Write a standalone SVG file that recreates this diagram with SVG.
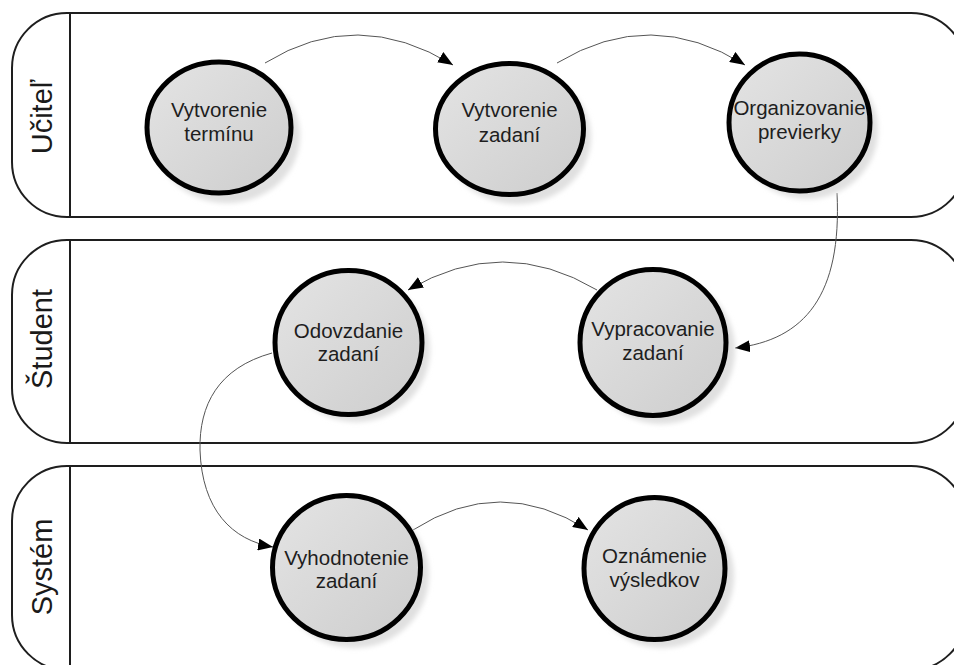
<svg xmlns="http://www.w3.org/2000/svg" width="954" height="665" viewBox="0 0 954 665">
  <defs>
    <linearGradient id="fillGrad" x1="0" y1="0" x2="1" y2="1">
      <stop offset="0" stop-color="#e4e4e4"/>
      <stop offset="1" stop-color="#cdcdcd"/>
    </linearGradient>
    <filter id="shadowBlur" x="-20%" y="-20%" width="140%" height="140%">
      <feGaussianBlur stdDeviation="2.5"/>
    </filter>
    <marker id="arrow" markerUnits="userSpaceOnUse" markerWidth="17" markerHeight="12" refX="15" refY="6" orient="auto">
      <path d="M0,0 L15,6 L0,12 Z" fill="#000"/>
    </marker>
  </defs>
  <style>
    .lane { fill: #fff; stroke: #1e1e1e; stroke-width: 2; }
    .divider { stroke: #1e1e1e; stroke-width: 2; }
    .laneLabel { font-family: "Liberation Sans", Arial, sans-serif; font-size: 29px; fill: #1a1a1a; text-anchor: middle; }
    .shadow { fill: #e0e0e0; filter: url(#shadowBlur); }
    .node { fill: url(#fillGrad); stroke: #000; stroke-width: 5; }
    .label { font-family: "Liberation Sans", Arial, sans-serif; font-size: 20.5px; fill: #1e1e1e; text-anchor: middle; }
    .conn { fill: none; stroke: #555; stroke-width: 1; marker-end: url(#arrow); }
  </style>
  <rect width="954" height="665" fill="#fff"/>

  <g id="lane-ucitel">
    <rect class="lane" x="12" y="13" width="954" height="204" rx="55" ry="55"/>
    <line class="divider" x1="70" y1="13" x2="70" y2="217"/>
    <text class="laneLabel" transform="translate(52,117) rotate(-90)">Učiteľ</text>
  </g>
  <g id="lane-student">
    <rect class="lane" x="12" y="240" width="954" height="203" rx="55" ry="55"/>
    <line class="divider" x1="70" y1="240" x2="70" y2="443"/>
    <text class="laneLabel" transform="translate(52,339) rotate(-90)">Študent</text>
  </g>
  <g id="lane-system">
    <rect class="lane" x="12" y="466" width="954" height="204" rx="55" ry="55"/>
    <line class="divider" x1="70" y1="466" x2="70" y2="670"/>
    <text class="laneLabel" transform="translate(52,567) rotate(-90)">Systém</text>
  </g>

  <g id="connectors">
    <path class="conn" d="M265,63 Q357,6 453,65"/>
    <path class="conn" d="M557,63 Q651,6 745,65"/>
    <path class="conn" d="M837,193 C842,295 805,340 735,348"/>
    <path class="conn" d="M597,290 Q503,234 408,290"/>
    <path class="conn" d="M272,353 C218,368 199,405 200,450 C202,510 232,540 273,547"/>
    <path class="conn" d="M413,530 Q500,474 588,530"/>
  </g>

  <g id="n1">
    <ellipse class="shadow" cx="227" cy="136" rx="73" ry="67"/>
    <ellipse class="node" cx="219" cy="127.5" rx="72" ry="65.5"/>
    <text class="label" x="219" y="117">Vytvorenie</text>
    <text class="label" x="219" y="141">termínu</text>
  </g>
  <g id="n2">
    <ellipse class="shadow" cx="517" cy="137" rx="74" ry="67"/>
    <ellipse class="node" cx="509.5" cy="129" rx="74" ry="65.5"/>
    <text class="label" x="509.5" y="117">Vytvorenie</text>
    <text class="label" x="509.5" y="142">zadaní</text>
  </g>
  <g id="n3">
    <ellipse class="shadow" cx="807" cy="130" rx="71" ry="69"/>
    <ellipse class="node" cx="799.5" cy="122.5" rx="70.5" ry="68.5"/>
    <text class="label" x="799.5" y="115">Organizovanie</text>
    <text class="label" x="799.5" y="139">previerky</text>
  </g>
  <g id="n4">
    <ellipse class="shadow" cx="356" cy="350" rx="74" ry="72"/>
    <ellipse class="node" cx="348.5" cy="342.5" rx="73.5" ry="72"/>
    <text class="label" x="348.5" y="338">Odovzdanie</text>
    <text class="label" x="348.5" y="361">zadaní</text>
  </g>
  <g id="n5">
    <ellipse class="shadow" cx="661" cy="350" rx="74" ry="74"/>
    <ellipse class="node" cx="653" cy="342.5" rx="73" ry="73"/>
    <text class="label" x="653" y="336">Vypracovanie</text>
    <text class="label" x="653" y="360">zadaní</text>
  </g>
  <g id="n6">
    <ellipse class="shadow" cx="354" cy="575" rx="75" ry="73"/>
    <ellipse class="node" cx="346.5" cy="567.5" rx="74" ry="72"/>
    <text class="label" x="346.5" y="565">Vyhodnotenie</text>
    <text class="label" x="346.5" y="588">zadaní</text>
  </g>
  <g id="n7">
    <ellipse class="shadow" cx="662" cy="576" rx="72" ry="72"/>
    <ellipse class="node" cx="654.5" cy="568.5" rx="70.5" ry="71"/>
    <text class="label" x="654.5" y="563">Oznámenie</text>
    <text class="label" x="654.5" y="587">výsledkov</text>
  </g>
</svg>
